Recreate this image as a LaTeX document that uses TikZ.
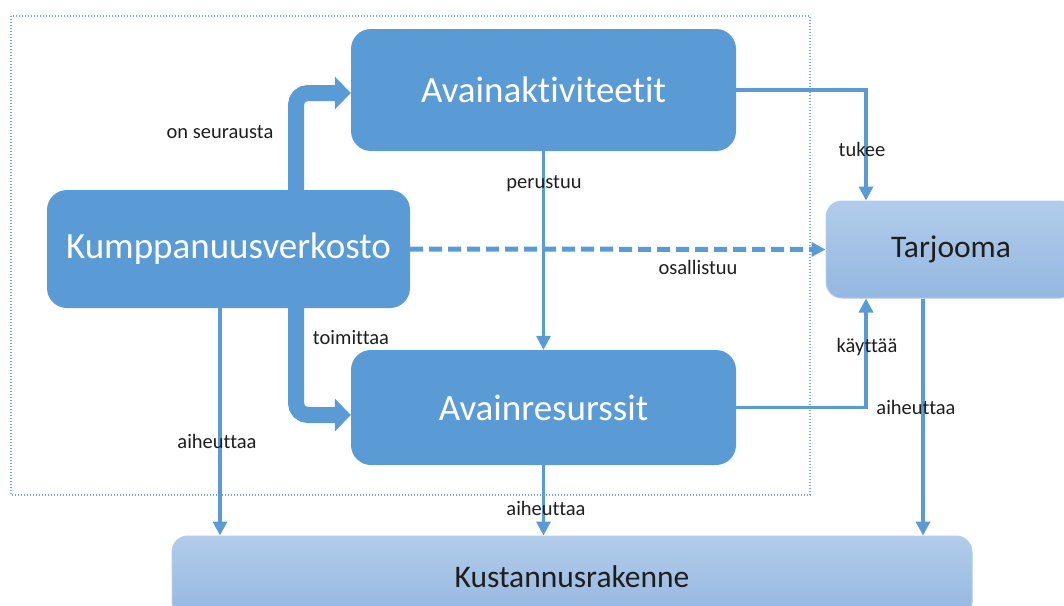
\documentclass[tikz,border=0pt]{standalone}
\usepackage{fontspec}
\setmainfont[Ligatures=NoCommon]{Carlito}
\usetikzlibrary{arrows.meta,calc}
\definecolor{boxblue}{HTML}{5B9BD5}
\definecolor{lighttop}{HTML}{B2CCEA}
\definecolor{lightbot}{HTML}{94B7E0}
\definecolor{inkgray}{HTML}{1E1E1E}
\begin{document}
\begin{tikzpicture}[x=1pt,y=-1pt,
  darkbox/.style={rectangle, rounded corners=20pt, fill=boxblue, text=white,
    font=\fontsize{37}{44}\selectfont, inner sep=0pt},
  lightbox/.style={rectangle, rounded corners=16pt, top color=lighttop, bottom color=lightbot,
    draw=lighttop, line width=1pt, text=inkgray, font=\fontsize{31.5}{38}\selectfont, inner sep=0pt},
  lbl/.style={text=inkgray, font=\fontsize{20.5}{24}\selectfont, inner sep=0pt},
  link/.style={draw=boxblue, line width=3.3pt, -{Triangle[width=14pt,length=14pt]}},
  dashlink/.style={draw=boxblue, line width=5pt, dash pattern=on 13pt off 6pt,
    -{Triangle[width=14pt,length=14pt]}},
  bigarrow/.style={draw=boxblue, line width=16pt, rounded corners=12pt,
    -{Triangle[width=32pt,length=16pt]}},
  frame/.style={draw=boxblue!85, line width=1.3pt, dash pattern=on 1.3pt off 1.7pt}
]
\useasboundingbox (0,0) rectangle (1064,605);
\clip (0,0) rectangle (1064,605);

% dotted frame round the partner, activity and resource blocks
\draw[frame] (11,16) rectangle (810,495);

% blocks
\node[darkbox, minimum width=385pt, minimum height=122pt] (ak) at (543.5,90) {Avainaktiviteetit};
\node[darkbox, minimum width=385pt, minimum height=115pt] (ar) at (543.5,407.5) {Avainresurssit};
\node[darkbox, minimum width=363pt, minimum height=118pt] (kum) at (228.5,249) {Kumppanuusverkosto};
\node[lightbox, minimum width=250pt, minimum height=97pt] (tar) at (951,249.5) {Tarjooma};
\node[lightbox, minimum width=800pt, minimum height=82pt] (kus) at (572,577) {Kustannusrakenne};

% helper positions for the connector legs
\coordinate (thickX) at (296,0);
\coordinate (upY) at (0,93);
\coordinate (downY) at (0,415);
\coordinate (sideX) at (866,0);
\coordinate (leftX) at (220,0);
\coordinate (rightX) at (923,0);

% broad arrows from the partner network
\draw[bigarrow] (kum.north -| thickX) |- (ak.west |- upY);
\draw[bigarrow] (kum.south -| thickX) |- (ar.west |- downY);

% thin connectors
\draw[link] (ak.east) -| (tar.north -| sideX);
\draw[link] (ar.east) -| (tar.south -| sideX);
\draw[link] (ak.south) -- (ar.north);
\draw[link] (ar.south) -- (ar.south |- kus.north);
\draw[link] (kum.south -| leftX) -- (kus.north -| leftX);
\draw[link] (tar.south -| rightX) -- (kus.north -| rightX);
\draw[dashlink] (kum.east) -- (tar.west);

% connector labels
\node[lbl] (l1) at (220,132) {on seurausta};
\node[lbl] (l2) at (351,338) {toimittaa};
\node[lbl] (l3) at (544,184) {perustuu};
\node[lbl] (l4) at (698,267) {osallistuu};
\node[lbl] (l5) at (862,149) {tukee};
\node[lbl] (l6) at (867,347) {käyttää};
\node[lbl] (l7) at (916,407) {aiheuttaa};
\node[lbl] (l8) at (217,441) {aiheuttaa};
\node[lbl] (l9) at (546,508) {aiheuttaa};
\end{tikzpicture}
\end{document}
